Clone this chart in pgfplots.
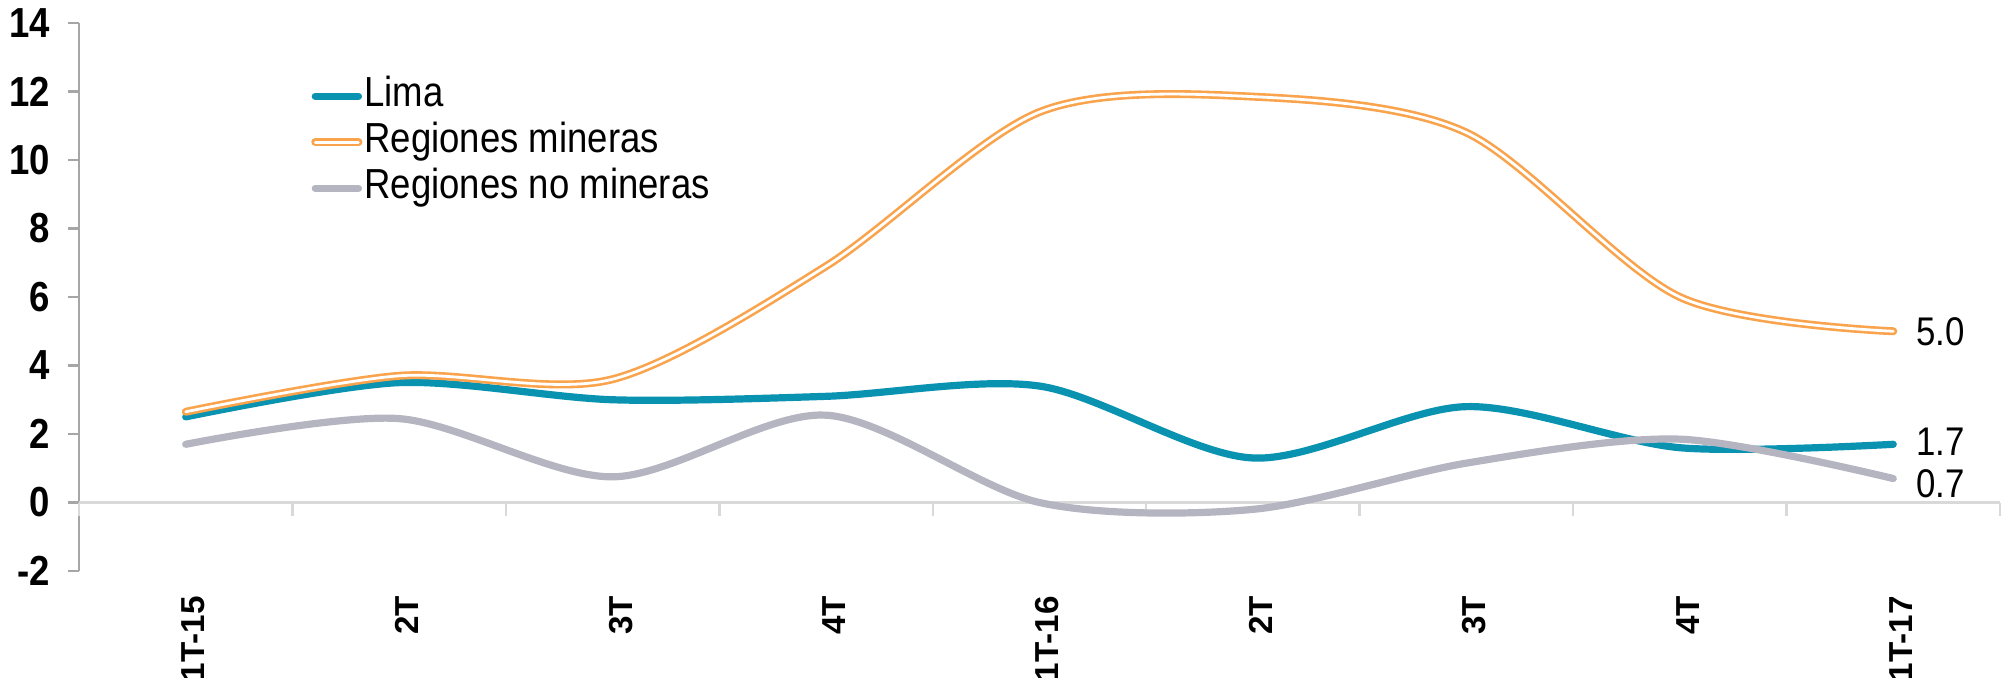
\documentclass[border=0pt]{standalone}
\usepackage{fontspec}
\setmainfont{Liberation Sans}[FakeStretch=0.87]
\newfontfamily\xlabfont{Liberation Sans}
\usepackage{pgfplots}
\pgfplotsset{compat=1.18}

\definecolor{lima}{RGB}{9, 147, 176}
\definecolor{mineras}{RGB}{249, 163, 76}
\definecolor{nomineras}{RGB}{181, 180, 193}
\definecolor{axisgray}{RGB}{166, 166, 166}
\definecolor{zerogray}{RGB}{217, 217, 217}

\pgfplotsset{
	endlabel/.style = {
		draw = none, mark = none, forget plot, nodes near coords,
		point meta = explicit symbolic,
		nodes near coords style = {anchor = west, inner sep = 0pt, xshift = 5.5pt, yshift = #1,
			font = \fontsize{10}{11}\selectfont},
	},
}

\begin{document}
\begin{tikzpicture}
\begin{axis}[
	scale only axis,
	width = 480.25pt, height = 137pt,
	xmin = -0.5, xmax = 8.5,
	ymin = -2, ymax = 14,
	clip = false,
	axis lines = left,
	axis line style = {-},
	x axis line style = {draw = none},
	y axis line style = {draw = axisgray, line width = 0.6pt},
	tick align = outside,
	major tick length = 2.75pt,
	ytick = {-2, 0, ..., 14},
	ytick style = {draw = axisgray, line width = 0.6pt},
	xtick = {0, ..., 8},
	xtick style = {draw = none},
	xticklabels = {1T-15, 2T, 3T, 4T, 1T-16, 2T, 3T, 4T, 1T-17},
	xticklabel style = {rotate = 90, anchor = east, yshift = -2pt,
		font = \xlabfont\bfseries\fontsize{8.3}{10}\selectfont},
	yticklabel style = {font = \bfseries\fontsize{10.5}{12}\selectfont, xshift = -1pt},
	/pgf/number format/assume math mode = true,
	extra y ticks = {0},
	extra y tick labels = {},
	extra y tick style = {grid = major, major grid style = {draw = zerogray, line width = 0.75pt}},
	legend cell align = left,
	legend image code/.code = {\draw[#1] (0pt, 0pt) -- (10.8pt, 0pt);},
	legend style = {
		at = {(0.1205, 0.905)}, anchor = north west,
		draw = none, fill = none, inner sep = 0pt,
		font = \fontsize{10.5}{12}\selectfont,
		row sep = 1.3pt,
		nodes = {inner sep = 0.5pt, text height = 7.2pt, text depth = 2pt},
	},
]

	\pgfplotsinvokeforeach{-0.5, 0.5, 1.5, 2.5, 3.5, 4.5, 5.5, 6.5, 7.5, 8.5}{
		\draw[zerogray, line width = 0.6pt] (axis cs:#1, 0) -- ([yshift = -3.25pt]axis cs:#1, 0);
	}

	\addplot[lima, line width = 1.8pt, line cap = round, smooth, mark = none] coordinates {
		(0, 2.5) (1, 3.5) (2, 3.0) (3, 3.1) (4, 3.4)
		(5, 1.3) (6, 2.8) (7, 1.6) (8, 1.7)
	};
	\addlegendentry{Lima}

	\addplot[mineras, line width = 0.65pt, double = white, double distance = 0.7pt,
		line cap = round, smooth, mark = none] coordinates {
		(0, 2.65) (1, 3.7) (2, 3.6) (3, 6.9) (4, 11.4)
		(5, 11.85) (6, 10.8) (7, 6.0) (8, 5.0)
	};
	\addlegendentry{Regiones mineras}

	\addplot[nomineras, line width = 1.8pt, line cap = round, smooth, mark = none] coordinates {
		(0, 1.7) (1, 2.45) (2, 0.75) (3, 2.55) (4, 0.0)
		(5, -0.2) (6, 1.15) (7, 1.85) (8, 0.7)
	};
	\addlegendentry{Regiones no mineras}

	\addplot[endlabel = 0pt] coordinates {(8, 5.0) [5.0]};
	\addplot[endlabel = 0.6pt] coordinates {(8, 1.7) [1.7]};
	\addplot[endlabel = -1.2pt] coordinates {(8, 0.7) [0.7]};
\end{axis}
\pgfresetboundingbox
\path[use as bounding box] ([xshift = -19.75pt, yshift = 5.75pt]current axis.north west)
	rectangle ([xshift = 1pt, yshift = -26.5pt]current axis.south east);
\end{tikzpicture}
\end{document}
